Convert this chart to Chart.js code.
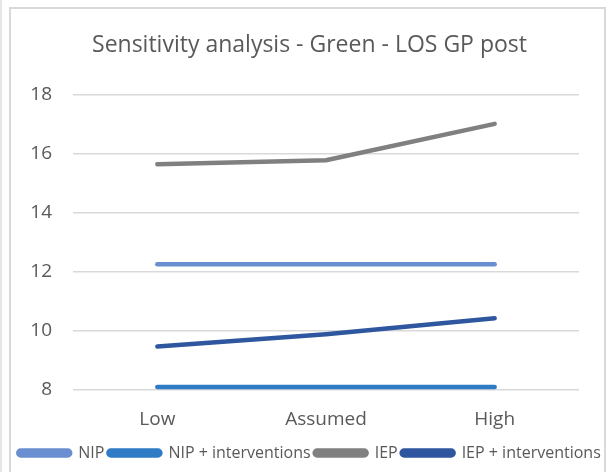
<!DOCTYPE html>
<html>
<head>
<meta charset="utf-8">
<script src="https://cdn.jsdelivr.net/npm/chart.js@4"></script>
<style>
  html, body { margin: 0; padding: 0; background: #ffffff; }
  #wrap { position: relative; width: 609px; height: 472px; overflow: hidden; background: #ffffff; }
  .edge { position: absolute; background: #d9d9d9; }
  #c { position: absolute; left: 0; top: 0; }
</style>
</head>
<body>
<div id="wrap">
  <div class="edge" style="left:0;top:0;width:2px;height:472px;background:#e6e6e6"></div>
  <div class="edge" style="left:9px;top:7px;width:2px;height:465px"></div>
  <div class="edge" style="left:9px;top:7px;width:597px;height:2px"></div>
  <div class="edge" style="left:604px;top:7px;width:2px;height:465px"></div>
  <canvas id="c" width="609" height="472"></canvas>
</div>
<script>
// Scenario categories along the x axis
const categories = ['Low', 'Assumed', 'High'];

// Length of stay (GP post) per scenario
const nip = [12.26, 12.26, 12.26];
const nipInterventions = [8.10, 8.10, 8.10];
const iep = [15.64, 15.78, 17.01];
const iepInterventions = [9.47, 9.89, 10.43];

const yTicks = [8, 10, 12, 14, 16, 18];

const seriesNames = ['NIP', 'NIP + interventions', 'IEP', 'IEP + interventions'];
const seriesColors = ['#6a8fd1', '#2f7bc5', '#808080', '#2f57a0'];
const seriesValues = [nip, nipInterventions, iep, iepInterventions];

const FONT = '"Open Sans", Calibri, sans-serif';
const TEXT = '#595959';

new Chart(document.getElementById('c'), {
  type: 'line',
  data: {
    labels: categories,
    datasets: seriesNames.map((name, i) => ({
      label: name,
      data: seriesValues[i],
      borderColor: seriesColors[i],
      backgroundColor: seriesColors[i],
      borderWidth: 4.5,
      borderCapStyle: 'round',
      borderJoinStyle: 'round',
      pointRadius: 0,
      tension: 0,
      fill: false
    }))
  },
  options: {
    responsive: false,
    animation: false,
    devicePixelRatio: 1,
    layout: { padding: { left: 10, right: 0, top: 0, bottom: 1 } },
    plugins: {
      title: {
        display: true,
        text: 'Sensitivity analysis - Green - LOS GP post',
        color: TEXT,
        font: { family: FONT, size: 23, weight: 'normal' },
        padding: { top: 32, bottom: 35 }
      },
      legend: {
        display: true,
        position: 'bottom',
        labels: {
          color: TEXT,
          font: { family: FONT, size: 16 },
          boxWidth: 52,
          boxHeight: 5,
          padding: 4,
          useBorderRadius: true,
          borderRadius: 2.5
        }
      },
      tooltip: { enabled: false }
    },
    scales: {
      x: {
        offset: true,
        grid: { display: false, drawTicks: false },
        border: { display: false },
        afterFit: (scale) => { scale.height = 51; },
        ticks: {
          color: TEXT,
          font: { family: FONT, size: 19 },
          padding: 18
        }
      },
      y: {
        min: 8,
        max: 18,
        afterBuildTicks: (scale) => { scale.ticks = yTicks.map(v => ({ value: v })); },
        afterFit: (scale) => { scale.width = 63; },
        grid: { color: '#d9d9d9', lineWidth: 1.5, drawTicks: false },
        border: { display: false },
        ticks: {
          color: TEXT,
          font: { family: FONT, size: 19 },
          padding: 21
        }
      },
      // empty right-hand strip that keeps the plot clear of the frame
      yRight: {
        position: 'right',
        afterFit: (scale) => { scale.width = 30; },
        grid: { display: false, drawTicks: false },
        border: { display: false },
        ticks: { display: false }
      }
    }
  }
});
</script>
</body>
</html>
